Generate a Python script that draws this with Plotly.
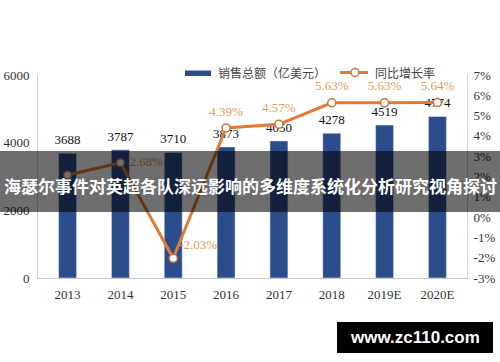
import plotly.graph_objects as go

years = ["2013", "2014", "2015", "2016", "2017", "2018", "2019E", "2020E"]
sales = [3688, 3787, 3710, 3873, 4050, 4278, 4519, 4774]
growth = [2.07, 2.68, -2.03, 4.39, 4.57, 5.63, 5.63, 5.64]
growth_labels = ["", "2.68%", "-2.03%", "4.39%", "4.57%", "5.63%", "5.63%", "5.64%"]
growth_label_pos = ["top center", "middle right", "top right", "top center",
                    "top center", "top center", "top center", "top center"]
left_ticks = [0, 2000, 4000, 6000]
right_ticks = [-3, -2, -1, 0, 1, 2, 3, 4, 5, 6, 7]
right_tick_text = ["-3%", "-2%", "-1%", "0%", "1%", "2%", "3%", "4%", "5%", "6%", "7%"]
bar_name = "销售总额（亿美元）"
line_name = "同比增长率"
title_text = "海瑟尔事件对英超各队深远影响的多维度系统化分析研究视角探讨"
watermark = "www.zc110.com"

W, H = 500, 362
L, R, T, B = 38, 33, 75, 84
PW, PH = W - L - R, H - T - B


def px(x):
    return (x - L) / PW


def py(y):
    return (H - B - y) / PH


BAR_COLOR = "#2C4D8C"
LINE_COLOR = "#E07A34"
LABEL_ORANGE = "#E39B5C"
SERIF = "Liberation Serif, Times New Roman, serif"
CJK = "Noto Sans CJK SC, sans-serif"

fig = go.Figure()
fig.add_trace(go.Bar(x=years, y=sales, marker_color=BAR_COLOR, width=0.34,
                     name=bar_name, showlegend=False, hoverinfo="skip"))
fig.add_trace(go.Scatter(x=years, y=growth, yaxis="y2", mode="lines+markers",
                         line=dict(color=LINE_COLOR, width=3),
                         marker=dict(size=8, color="white",
                                     line=dict(color="#C8763C", width=1.5)),
                         name=line_name, showlegend=False, hoverinfo="skip"))
# bar value labels
fig.add_trace(go.Scatter(x=years, y=sales, mode="markers+text",
                         text=[str(v) for v in sales], textposition="top center",
                         marker=dict(size=8, opacity=0),
                         textfont=dict(family=SERIF, size=13, color="#111"),
                         showlegend=False, hoverinfo="skip"))
# growth labels
fig.add_trace(go.Scatter(x=years, y=growth, yaxis="y2", mode="markers+text",
                         text=growth_labels, textposition=growth_label_pos,
                         marker=dict(size=[13, 13, 8, 13, 13, 13, 13, 13], opacity=0),
                         textfont=dict(family=SERIF, size=13, color=LABEL_ORANGE),
                         showlegend=False, hoverinfo="skip"))

shapes = [
    # legend bar icon
    dict(type="rect", xref="paper", yref="paper", x0=px(185), x1=px(211),
         y0=py(76), y1=py(70.5), fillcolor=BAR_COLOR, line=dict(width=0)),
    # legend line icon
    dict(type="line", xref="paper", yref="paper", x0=px(340), x1=px(368),
         y0=py(72.5), y1=py(72.5), line=dict(color=LINE_COLOR, width=3)),
    dict(type="circle", xref="paper", yref="paper", x0=px(351), x1=px(359),
         y0=py(76.5), y1=py(68.5), fillcolor="white",
         line=dict(color="#C8763C", width=1.5)),
    # banner overlay
    dict(type="rect", xref="paper", yref="paper", x0=px(0), x1=px(W),
         y0=py(212), y1=py(151), fillcolor="rgba(0,0,0,0.57)",
         line=dict(width=0), layer="above"),
    # watermark box
    dict(type="rect", xref="paper", yref="paper", x0=px(337), x1=px(493),
         y0=py(353), y1=py(322), fillcolor="black", line=dict(width=0),
         layer="above"),
]

annotations = [
    dict(xref="paper", yref="paper", x=px(216), y=py(72.5), xanchor="left",
         yanchor="middle", text=bar_name, showarrow=False,
         font=dict(family=CJK, size=12, color="#444")),
    dict(xref="paper", yref="paper", x=px(373), y=py(72.5), xanchor="left",
         yanchor="middle", text=line_name, showarrow=False,
         font=dict(family=CJK, size=12, color="#444")),
    dict(xref="paper", yref="paper", x=px(250), y=py(185), xanchor="center",
         yanchor="middle", text="<b>" + title_text + "</b>", showarrow=False,
         font=dict(family=CJK, size=17, color="white")),
    dict(xref="paper", yref="paper", x=px(415), y=py(337.5), xanchor="center",
         yanchor="middle", text="<b>" + watermark + "</b>", showarrow=False,
         font=dict(family="Liberation Sans, Arial, sans-serif", size=17,
                   color="white")),
]

fig.update_layout(
    width=W, height=H,
    margin=dict(l=L, r=R, t=T, b=B, autoexpand=False),
    paper_bgcolor="white", plot_bgcolor="white",
    showlegend=False,
    shapes=shapes,
    annotations=annotations,
    xaxis=dict(type="category", showline=True, linecolor="#C8C8C8", linewidth=1,
               ticks="", showgrid=False, ticklabelstandoff=4, automargin=False,
               tickfont=dict(family=SERIF, size=13, color="#333")),
    yaxis=dict(range=[0, 6000], tickvals=left_ticks, showgrid=False,
               zeroline=False, showline=True, linecolor="#D0D0D0", linewidth=1,
               ticks="", ticklabelstandoff=5, automargin=False,
               tickfont=dict(family=SERIF, size=13, color="#333")),
    yaxis2=dict(range=[-3, 7], tickvals=right_ticks, ticktext=right_tick_text,
                overlaying="y", side="right", showgrid=False, zeroline=False,
                showline=True, linecolor="#D0D0D0", linewidth=1, ticks="",
                ticklabelstandoff=3, automargin=False,
                tickfont=dict(family=SERIF, size=13, color="#333")),
)

fig.write_html("out.html")
